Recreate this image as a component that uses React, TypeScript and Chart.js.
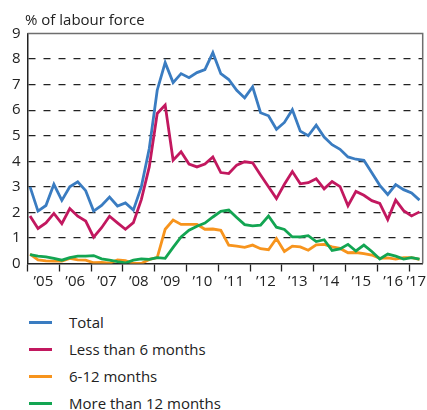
import React, { useEffect, useRef } from 'react';
import { Chart, registerables } from 'chart.js';

Chart.register(...registerables);

// ---- data ----
const chartTitle = '% of labour force';
const firstYear = 2005;
const firstObsOffset = 0.08; // position of first quarterly observation within 2005
const quarterStep = 0.25;
const axisMin = 2005;
const axisMax = 2017.43;

const yearTicks = [2005, 2006, 2007, 2008, 2009, 2010, 2011, 2012, 2013, 2014, 2015, 2016, 2017];
const yearLabelPositions = [2005.5, 2006.5, 2007.5, 2008.5, 2009.5, 2010.5, 2011.5, 2012.5, 2013.5, 2014.5, 2015.5, 2016.5, 2017.23];
const yearLabels = ['\u201905', '\u201906', '\u201907', '\u201908', '\u201909', '\u201910', '\u201911', '\u201912', '\u201913', '\u201914', '\u201915', '\u201916', '\u201917'];

const total = [
  3.0, 2.05, 2.27, 3.1, 2.47, 3.0, 3.2, 2.85, 2.05, 2.27,
  2.6, 2.25, 2.37, 2.09, 3.0, 4.5, 6.78, 7.86, 7.08, 7.43,
  7.27, 7.47, 7.59, 8.25, 7.43, 7.2, 6.78, 6.48, 6.91, 5.9,
  5.78, 5.25, 5.52, 6.02, 5.18, 5.0, 5.41, 4.95, 4.65, 4.47,
  4.17, 4.08, 4.04, 3.55, 3.06, 2.7, 3.09, 2.89, 2.76, 2.48,
];
const lessThan6 = [
  1.86, 1.37, 1.59, 1.96, 1.56, 2.15, 1.85, 1.66, 1.03, 1.4,
  1.85, 1.59, 1.34, 1.6, 2.5, 3.78, 5.87, 6.2, 4.04, 4.37,
  3.89, 3.78, 3.89, 4.17, 3.56, 3.52, 3.85, 3.98, 3.94, 3.46,
  3.0, 2.54, 3.1, 3.6, 3.12, 3.16, 3.32, 2.92, 3.21, 3.01,
  2.26, 2.82, 2.67, 2.46, 2.35, 1.72, 2.48, 2.07, 1.86, 2.02,
];
const sixTo12 = [
  0.37, 0.14, 0.1, 0.09, 0.09, 0.2, 0.14, 0.13, 0.03, 0.04,
  0.01, 0.14, 0.11, 0.0, 0.0, 0.16, 0.23, 1.34, 1.7, 1.53,
  1.53, 1.53, 1.34, 1.35, 1.3, 0.72, 0.68, 0.63, 0.72, 0.58,
  0.54, 0.98, 0.47, 0.68, 0.65, 0.52, 0.73, 0.75, 0.65, 0.59,
  0.42, 0.43, 0.39, 0.33, 0.2, 0.22, 0.17, 0.23, 0.23, 0.16,
];
const moreThan12 = [
  0.35, 0.29, 0.26, 0.2, 0.13, 0.23, 0.29, 0.29, 0.31, 0.18,
  0.13, 0.07, 0.02, 0.13, 0.18, 0.16, 0.23, 0.2, 0.63, 1.04,
  1.3, 1.46, 1.58, 1.82, 2.04, 2.09, 1.8, 1.52, 1.47, 1.5,
  1.86, 1.42, 1.33, 1.04, 1.04, 1.09, 0.86, 0.93, 0.51, 0.57,
  0.75, 0.49, 0.72, 0.47, 0.18, 0.37, 0.29, 0.17, 0.23, 0.17,
];

const seriesNames = ['Total', 'Less than 6 months', '6-12 months', 'More than 12 months'];
const seriesValues = [total, lessThan6, sixTo12, moreThan12];
const seriesColors = ['#3a7cc1', '#c2185f', '#f7941d', '#13a552'];

const FONT = '"Open Sans", "Noto Sans", sans-serif';
const TEXT = '#222';

export default function App() {
  const canvasRef = useRef<HTMLCanvasElement | null>(null);

  useEffect(() => {
    if (!canvasRef.current) return;

    const framePlugin = {
      id: 'frame',
      beforeDatasetsDraw(chart: any) {
        const { ctx, chartArea } = chart;
        ctx.save();
        ctx.strokeStyle = '#6e6e6e';
        ctx.lineWidth = 1.5;
        ctx.beginPath();
        ctx.moveTo(chartArea.left, chartArea.top);
        ctx.lineTo(chartArea.right, chartArea.top);
        ctx.lineTo(chartArea.right, chartArea.bottom);
        ctx.stroke();
        ctx.restore();
      },
      afterDraw(chart: any) {
        const { ctx } = chart;
        ctx.save();
        ctx.font = `15px ${FONT}`;
        ctx.fillStyle = TEXT;
        ctx.textBaseline = 'alphabetic';
        ctx.textAlign = 'left';
        ctx.fillText(chartTitle, 25, 25);
        ctx.restore();
      },
    };

    const datasets = seriesValues.map((vals, s) => ({
      label: seriesNames[s],
      data: vals.map((v, i) => ({ x: firstYear + firstObsOffset + i * quarterStep, y: v })),
      borderColor: seriesColors[s],
      backgroundColor: seriesColors[s],
      borderWidth: 2.8,
      pointRadius: 0,
      tension: 0,
      fill: false,
      order: seriesValues.length - s,
    }));

    const chart = new Chart(canvasRef.current, {
      type: 'line',
      data: { datasets },
      options: {
        animation: false,
        responsive: false,
        devicePixelRatio: 1,
        layout: { padding: { top: 33.5, right: 4.3, left: 0, bottom: 0 } },
        plugins: { legend: { display: false }, tooltip: { enabled: false }, title: { display: false } },
        scales: {
          x: {
            type: 'linear',
            position: 'bottom',
            min: axisMin,
            max: axisMax,
            afterBuildTicks: (scale: any) => {
              scale.ticks = yearTicks.map((v) => ({ value: v }));
            },
            afterFit: (scale: any) => {
              scale.height = 8;
              scale.paddingLeft = 0;
              scale.paddingRight = 0;
            },
            ticks: { display: false },
            grid: {
              drawOnChartArea: false,
              drawTicks: true,
              tickLength: 8,
              tickColor: TEXT,
              tickWidth: 1.3,
            },
            border: { display: true, color: TEXT, width: 1.5 },
          },
          x2: {
            type: 'linear',
            position: 'bottom',
            min: axisMin,
            max: axisMax,
            afterBuildTicks: (scale: any) => {
              scale.ticks = yearLabelPositions.map((v) => ({ value: v }));
            },
            afterFit: (scale: any) => {
              scale.height = 28.5;
              scale.paddingLeft = 0;
              scale.paddingRight = 0;
            },
            ticks: {
              autoSkip: false,
              maxRotation: 0,
              minRotation: 0,
              padding: 1,
              color: TEXT,
              font: { family: FONT, size: 15 },
              callback: (_v: any, idx: number) => yearLabels[idx],
            },
            grid: { display: false, drawTicks: false },
            border: { display: false },
          },
          y: {
            min: 0,
            max: 9,
            afterFit: (scale: any) => {
              scale.width = 27.5;
              scale.paddingTop = 0;
              scale.paddingBottom = 0;
            },
            ticks: {
              stepSize: 1,
              padding: 7,
              color: TEXT,
              font: { family: FONT, size: 15 },
            },
            grid: {
              drawTicks: false,
              color: (ctx: any) =>
                ctx.tick && (ctx.tick.value === 0 || ctx.tick.value === 9) ? 'rgba(0,0,0,0)' : '#222',
              lineWidth: 1.2,
            },
            border: { display: true, color: TEXT, width: 1.5, dash: [7, 8] },
          },
        },
      },
      plugins: [framePlugin],
    } as any);

    return () => chart.destroy();
  }, []);

  return (
    <div style={{ position: 'absolute', left: 0, top: 0, width: 427, height: 410, background: '#fff' }}>
      <canvas ref={canvasRef} width={427} height={300} style={{ display: 'block', width: 427, height: 300 }} />
      {seriesNames.map((name, i) => (
        <div
          key={name}
          style={{
            position: 'absolute',
            left: 0,
            top: 311 + i * 27,
            height: 22,
            width: 427,
            fontFamily: FONT,
            fontSize: 15,
            color: TEXT,
          }}
        >
          <div style={{ position: 'absolute', left: 29, width: 23, height: 3, top: 10, background: seriesColors[i] }} />
          <span style={{ position: 'absolute', left: 69, lineHeight: '22px', top: 0, whiteSpace: 'nowrap' }}>{name}</span>
        </div>
      ))}
    </div>
  );
}
